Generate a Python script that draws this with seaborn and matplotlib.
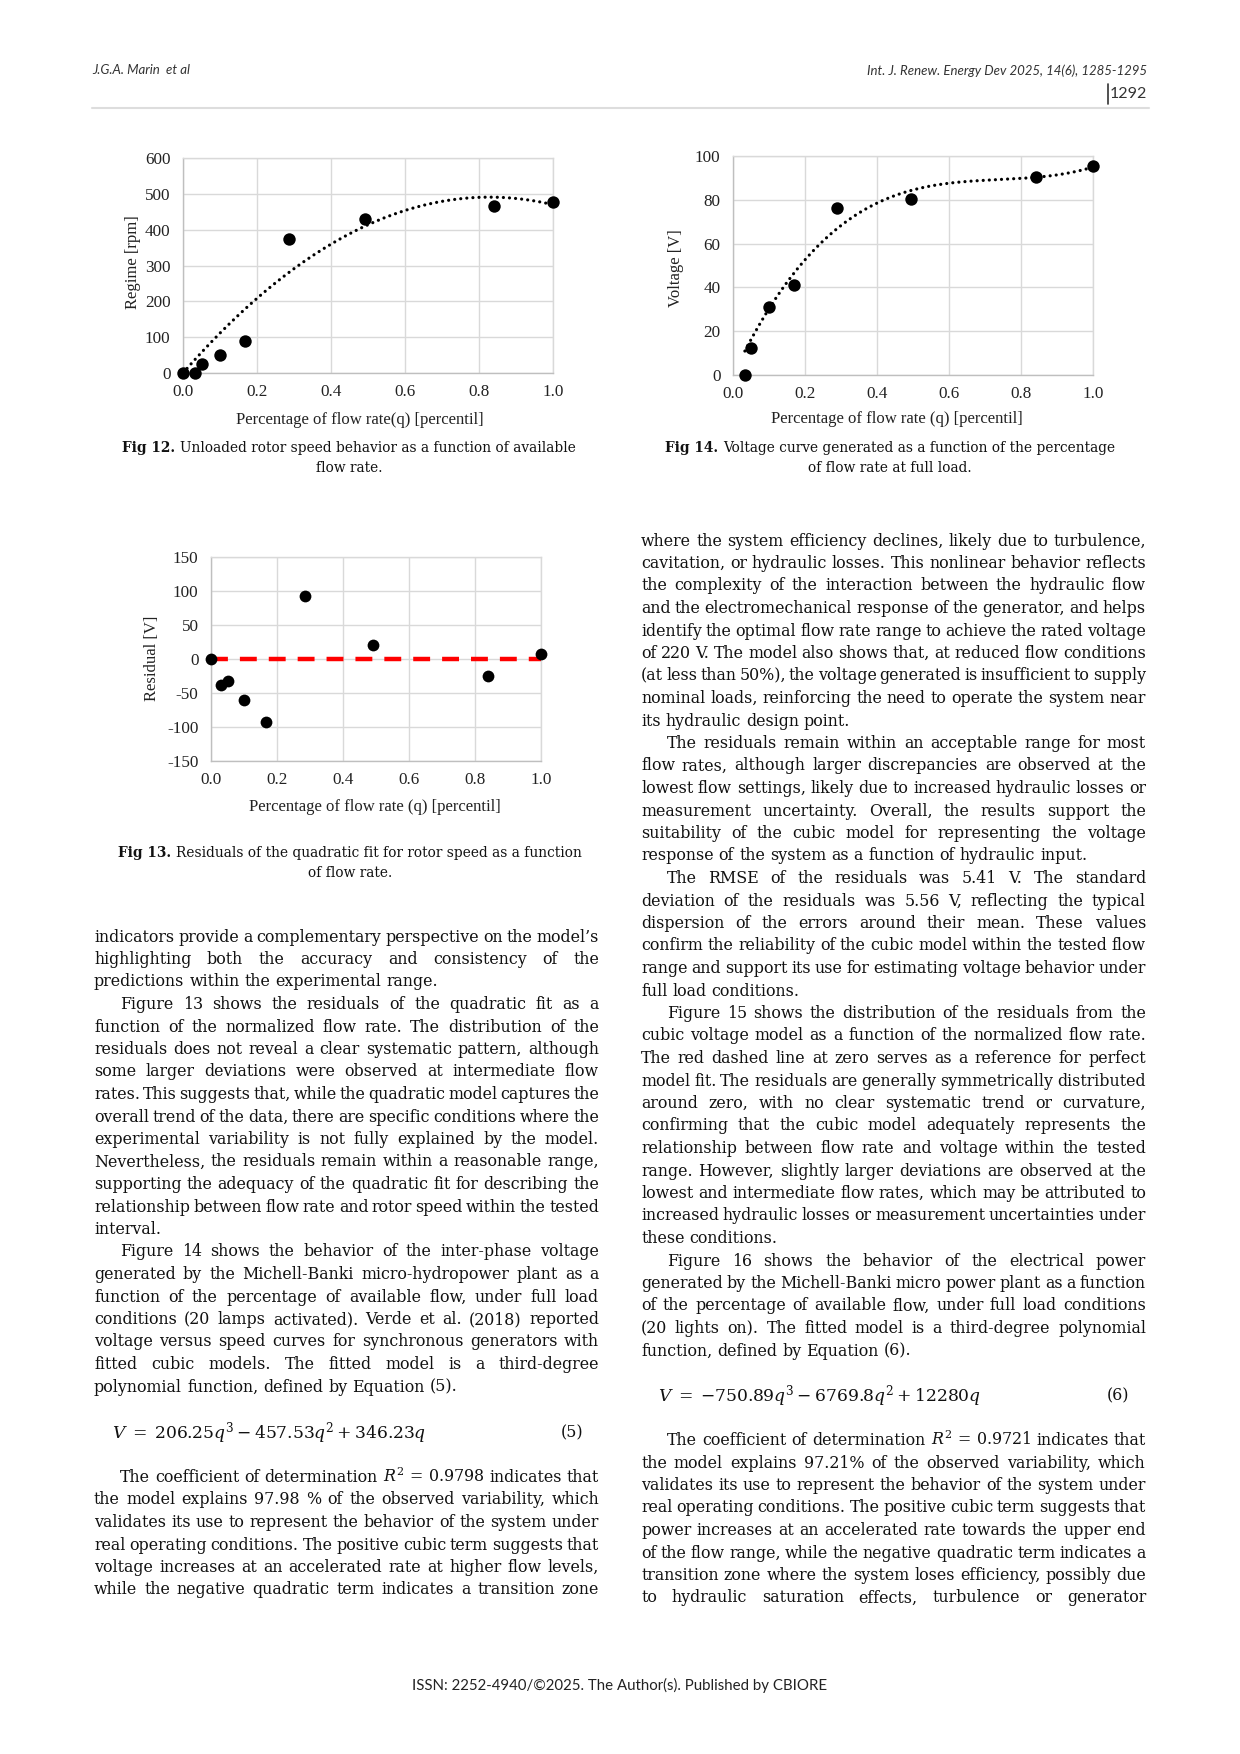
import re
import numpy as np
import matplotlib
matplotlib.use("Agg")
import matplotlib.pyplot as plt
from matplotlib.font_manager import FontProperties
from matplotlib.ticker import FuncFormatter
import seaborn as sns

# ---- chart data ----
q_rpm = [0.0, 0.033, 0.05, 0.10, 0.168, 0.286, 0.492, 0.840, 1.0]
rpm = [0, 0, 25, 50, 88, 373, 431, 467, 477]

q_volt = [0.033, 0.049, 0.10, 0.170, 0.288, 0.494, 0.841, 1.0]
volt = [0, 12.5, 31, 41.3, 76.3, 80.5, 90.3, 95.3]
volt_coef = [206.25, -457.53, 346.23, 0.0]   # Equation (5)

q_res = [0.0, 0.030, 0.050, 0.10, 0.168, 0.285, 0.492, 0.839, 1.0]
resid = [0, -38, -32, -61, -93, 92.5, 21, -24.5, 7.5]

x_ticks = [0.0, 0.2, 0.4, 0.6, 0.8, 1.0]
rpm_ticks = [0, 100, 200, 300, 400, 500, 600]
volt_ticks = [0, 20, 40, 60, 80, 100]
res_ticks = [-150, -100, -50, 0, 50, 100, 150]

# ---- page text: (indent first line, justify last line, lines) ----
left_paras = [
    (False, False, [
        "indicators provide a complementary perspective on the model’s",
        "highlighting both the accuracy and consistency of the",
        "predictions within the experimental range."]),
    (True, False, [
        "Figure 13 shows the residuals of the quadratic fit as a",
        "function of the normalized flow rate. The distribution of the",
        "residuals does not reveal a clear systematic pattern, although",
        "some larger deviations were observed at intermediate flow",
        "rates. This suggests that, while the quadratic model captures the",
        "overall trend of the data, there are specific conditions where the",
        "experimental variability is not fully explained by the model.",
        "Nevertheless, the residuals remain within a reasonable range,",
        "supporting the adequacy of the quadratic fit for describing the",
        "relationship between flow rate and rotor speed within the tested",
        "interval."]),
    (True, False, [
        "Figure 14 shows the behavior of the inter-phase voltage",
        "generated by the Michell-Banki micro-hydropower plant as a",
        "function of the percentage of available flow, under full load",
        "conditions (20 lamps activated). Verde et al. (2018) reported",
        "voltage versus speed curves for synchronous generators with",
        "fitted cubic models. The fitted model is a third-degree",
        "polynomial function, defined by Equation (5)."]),
]
left_after = [(True, True, [
    r"The coefficient of determination $R^2\,=\,0.9798$ indicates that",
    "the model explains 97.98 % of the observed variability, which",
    "validates its use to represent the behavior of the system under",
    "real operating conditions. The positive cubic term suggests that",
    "voltage increases at an accelerated rate at higher flow levels,",
    "while the negative quadratic term indicates a transition zone"])]

right_paras = [
    (False, False, [
        "where the system efficiency declines, likely due to turbulence,",
        "cavitation, or hydraulic losses. This nonlinear behavior reflects",
        "the complexity of the interaction between the hydraulic flow",
        "and the electromechanical response of the generator, and helps",
        "identify the optimal flow rate range to achieve the rated voltage",
        "of 220 V. The model also shows that, at reduced flow conditions",
        "(at less than 50%), the voltage generated is insufficient to supply",
        "nominal loads, reinforcing the need to operate the system near",
        "its hydraulic design point."]),
    (True, False, [
        "The residuals remain within an acceptable range for most",
        "flow rates, although larger discrepancies are observed at the",
        "lowest flow settings, likely due to increased hydraulic losses or",
        "measurement uncertainty. Overall, the results support the",
        "suitability of the cubic model for representing the voltage",
        "response of the system as a function of hydraulic input."]),
    (True, False, [
        "The RMSE of the residuals was 5.41 V. The standard",
        "deviation of the residuals was 5.56 V, reflecting the typical",
        "dispersion of the errors around their mean. These values",
        "confirm the reliability of the cubic model within the tested flow",
        "range and support its use for estimating voltage behavior under",
        "full load conditions."]),
    (True, False, [
        "Figure 15 shows the distribution of the residuals from the",
        "cubic voltage model as a function of the normalized flow rate.",
        "The red dashed line at zero serves as a reference for perfect",
        "model fit. The residuals are generally symmetrically distributed",
        "around zero, with no clear systematic trend or curvature,",
        "confirming that the cubic model adequately represents the",
        "relationship between flow rate and voltage within the tested",
        "range. However, slightly larger deviations are observed at the",
        "lowest and intermediate flow rates, which may be attributed to",
        "increased hydraulic losses or measurement uncertainties under",
        "these conditions."]),
    (True, False, [
        "Figure 16 shows the behavior of the electrical power",
        "generated by the Michell-Banki micro power plant as a function",
        "of the percentage of available flow, under full load conditions",
        "(20 lights on). The fitted model is a third-degree polynomial",
        "function, defined by Equation (6)."]),
]
right_after = [(True, True, [
    r"The coefficient of determination $R^2\,=\,0.9721$ indicates that",
    "the model explains 97.21% of the observed variability, which",
    "validates its use to represent the behavior of the system under",
    "real operating conditions. The positive cubic term suggests that",
    "power increases at an accelerated rate towards the upper end",
    "of the flow range, while the negative quadratic term indicates a",
    "transition zone where the system loses efficiency, possibly due",
    "to hydraulic saturation effects, turbulence or generator"])]

captions = [
    (349, 447, "Fig 12.", "Unloaded rotor speed behavior as a function of available", "flow rate.", 460),
    (890, 447, "Fig 14.", "Voltage curve generated as a function of the percentage", "of flow rate at full load.", 456),
    (350, 852, "Fig 13.", "Residuals of the quadratic fit for rotor speed as a function", "of flow rate.", 465),
]

eq5 = r"$V\;=\;206.25q^3 - 457.53q^2 + 346.23q$"
eq6 = r"$V\;=\;{-}750.89q^3 - 6769.8q^2 + 12280q$"

# ---- figure / page ----
sns.set_style("white")
plt.rcParams["font.family"] = ["Liberation Serif", "DejaVu Serif"]
plt.rcParams["mathtext.fontset"] = "dejavuserif"
plt.rcParams["axes.unicode_minus"] = False

W, H = 1240, 1754
fig = plt.figure(figsize=(W / 100, H / 100), dpi=100)
page = fig.add_axes([0, 0, 1, 1])
page.set_xlim(0, W)
page.set_ylim(H, 0)
page.axis("off")
renderer = fig.canvas.get_renderer()
ink = "#111111"
BODY_FAMILY = "DejaVu Serif"
INDENT = 26
LX0, LX1 = 94, 599
RX0, RX1 = 641, 1146


def text_w(s, fp):
    w, h, d = renderer.get_text_width_height_descent(s, fp, ismath=("$" in s))
    return w


def space_w(fp):
    return text_w("a a", fp) - text_w("aa", fp)


def tokens(line):
    return re.findall(r"\$[^$]*\$|\S+", line)


def fit_body_size(groups, base=10.0, min_gap_em=0.15):
    fp = FontProperties(family=BODY_FAMILY, size=base)
    em = base * 100 / 72
    worst = 0.0
    for x0, x1, paras in groups:
        for ind, just_last, lines in paras:
            for i, line in enumerate(lines):
                if i == len(lines) - 1 and not just_last:
                    continue
                avail = x1 - x0 - (INDENT if (ind and i == 0) else 0)
                toks = tokens(line)
                need = sum(text_w(t, fp) for t in toks) + (len(toks) - 1) * min_gap_em * em
                worst = max(worst, need / avail)
    return min(base / worst, 13.0)


body_size = fit_body_size([(LX0, LX1, left_paras + left_after),
                           (RX0, RX1, right_paras + right_after)])
body = FontProperties(family=BODY_FAMILY, size=body_size)


def draw_line(x0, x1, yc, line, justify, fp=body):
    toks = tokens(line)
    widths = [text_w(t, fp) for t in toks]
    if justify and len(toks) > 1:
        gap = (x1 - x0 - sum(widths)) / (len(toks) - 1)
    else:
        gap = space_w(fp)
    x = x0
    for t, w in zip(toks, widths):
        page.text(x, yc + 5, t, fontproperties=fp, ha="left", va="baseline", color=ink)
        x += w + gap


def draw_paras(x0, x1, y0, paras, pitch=22.5):
    y = y0
    for ind, just_last, lines in paras:
        for i, line in enumerate(lines):
            xs = x0 + (INDENT if (ind and i == 0) else 0)
            last = i == len(lines) - 1
            draw_line(xs, x1, y, line, (not last) or just_last)
            y += pitch
    return y


# caption size chosen so the first lines match their widths on the page
probe = FontProperties(family=BODY_FAMILY, size=10)
probe_b = FontProperties(family=BODY_FAMILY, size=10, weight="bold")
ratios = [target / (text_w(b, probe_b) + space_w(probe) + text_w(f, probe))
          for _, _, b, f, _, target in captions]
cap_size = 10 * min(ratios)
cap_fp = FontProperties(family=BODY_FAMILY, size=cap_size)
cap_bold = FontProperties(family=BODY_FAMILY, size=cap_size, weight="bold")

for cx, y, bold, first, second, _ in captions:
    sp = space_w(cap_fp)
    wb = text_w(bold, cap_bold)
    wr = text_w(first, cap_fp)
    x = cx - (wb + sp + wr) / 2
    page.text(x, y + 5, bold, fontproperties=cap_bold, ha="left", va="baseline", color=ink)
    page.text(x + wb + sp, y + 5, first, fontproperties=cap_fp, ha="left", va="baseline", color=ink)
    page.text(cx, y + 25, second, fontproperties=cap_fp, ha="center", va="baseline", color=ink)


def add_chart(box):
    l, t, r, b = box
    return fig.add_axes([l / W, 1 - b / H, (r - l) / W, (b - t) / H])


def style_axes(ax, box, ylim, yticks, xlabel, ylabel, xl_pos, yl_pos):
    l, t, r, b = box
    ax.set_xlim(0, 1)
    ax.set_ylim(*ylim)
    ax.set_xticks(x_ticks)
    ax.set_yticks(yticks)
    ax.xaxis.set_major_formatter(FuncFormatter(lambda v, p: f"{v:.1f}"))
    ax.yaxis.set_major_formatter(FuncFormatter(lambda v, p: f"{v:.0f}"))
    ax.grid(True, color="#d9d9d9", lw=1.0)
    ax.set_axisbelow(True)
    for s in ax.spines.values():
        s.set_color("#d9d9d9")
        s.set_linewidth(1.0)
    ax.spines["left"].set_color("#bfbfbf")
    ax.spines["bottom"].set_color("#bfbfbf")
    ax.tick_params(axis="y", length=4, width=1, color="#bfbfbf", labelsize=12.3,
                   pad=5, labelcolor="#222222")
    ax.tick_params(axis="x", length=0, labelsize=12.3, pad=8, labelcolor="#222222")
    ax.set_xlabel(xlabel, fontsize=12, color="#222222", va="center")
    ax.set_ylabel(ylabel, fontsize=12, color="#222222", va="center")
    ax.xaxis.set_label_coords((xl_pos[0] - l) / (r - l), (b - xl_pos[1]) / (b - t))
    ax.yaxis.set_label_coords((yl_pos[0] - l) / (r - l), (b - yl_pos[1]) / (b - t))


dot_style = dict(color="black", lw=2.3, linestyle=(0, (0.01, 1.9)),
                 dash_capstyle="round", errorbar=None)

# Fig 12: rotor speed with quadratic trend (least squares through origin)
box12 = (183, 158, 553, 373)
ax12 = add_chart(box12)
qa = np.asarray(q_rpm)
coef12, *_ = np.linalg.lstsq(np.column_stack([qa ** 2, qa]), np.asarray(rpm, float), rcond=None)
qg = np.linspace(min(q_rpm), max(q_rpm), 200)
sns.lineplot(x=qg, y=np.polyval([*coef12, 0.0], qg), ax=ax12, **dot_style)
sns.scatterplot(x=q_rpm, y=rpm, ax=ax12, color="black", s=80, linewidth=0,
                zorder=4, clip_on=False)
style_axes(ax12, box12, (0, 600), rpm_ticks, "Percentage of flow rate(q) [percentil]",
           "Regime [rpm]", (360, 420), (133, 262))

# Fig 14: voltage with cubic trend of Equation (5)
box14 = (733, 156, 1093, 375)
ax14 = add_chart(box14)
qg = np.linspace(min(q_volt), max(q_volt), 200)
sns.lineplot(x=qg, y=np.polyval(volt_coef, qg), ax=ax14, **dot_style)
sns.scatterplot(x=q_volt, y=volt, ax=ax14, color="black", s=80, linewidth=0,
                zorder=4, clip_on=False)
style_axes(ax14, box14, (0, 100), volt_ticks, "Percentage of flow rate (q) [percentil]",
           "Voltage [V]", (897, 419), (676, 268))

# Fig 13: residuals
box13 = (211, 557, 541, 761)
ax13 = add_chart(box13)
ax13.axhline(0, color="#ff0000", lw=3.2, linestyle=(0, (3.8, 2.7)), zorder=3)
sns.scatterplot(x=q_res, y=resid, ax=ax13, color="black", s=72, linewidth=0,
                zorder=4, clip_on=False)
style_axes(ax13, box13, (-150, 150), res_ticks, "Percentage of flow rate (q) [percentil]",
           "Residual [V]", (375, 807), (152, 658))

# body text
draw_paras(LX0, LX1, 936.5, left_paras)
eq_fp = FontProperties(family=BODY_FAMILY, size=12.3)
page.text(112, 1432 + 6, eq5, fontproperties=eq_fp, ha="left", va="baseline", color=ink)
page.text(583, 1432 + 5, "(5)", fontproperties=body, ha="right", va="baseline", color=ink)
draw_paras(LX0, LX1, 1477, left_after)

draw_paras(RX0, RX1, 540.5, right_paras)
page.text(658, 1395 + 6, eq6, fontproperties=eq_fp, ha="left", va="baseline", color=ink)
page.text(1129, 1395 + 5, "(6)", fontproperties=body, ha="right", va="baseline", color=ink)
draw_paras(RX0, RX1, 1440, right_after)

# header and footer
head = dict(family="Lato", style="italic", size=9.5, color="#333333", va="center")
page.text(92, 70.5, "J.G.A. Marin  et al", ha="left", **head)
page.text(1147, 70.5, "Int. J. Renew. Energy Dev 2025, 14(6), 1285-1295", ha="right", **head)
page.text(1147, 94, "1292", family="Lato", size=11.5, color="#333333", ha="right", va="center")
page.plot([1108, 1108], [84, 104], color="#333333", lw=1.2)
page.plot([92, 1149], [107.5, 107.5], color="#dddddd", lw=1.5)
page.text(620, 1685, "ISSN: 2252-4940/©2025. The Author(s). Published by CBIORE",
          family="Lato", size=10.8, color="#222222", ha="center", va="center")

fig.savefig("out.png", dpi=100)
